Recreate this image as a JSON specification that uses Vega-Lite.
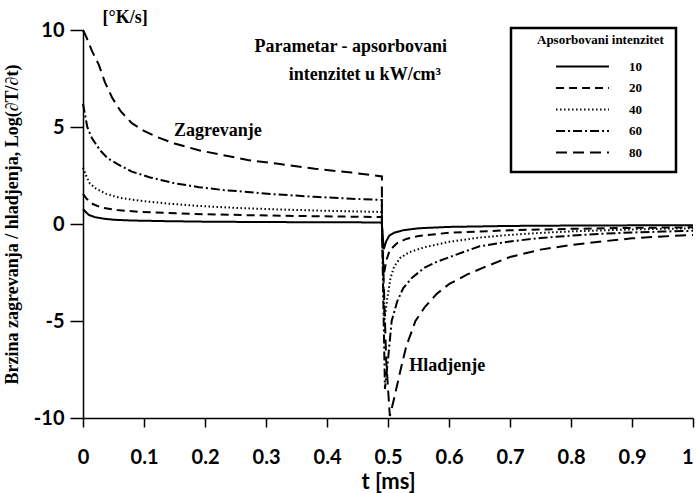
{
  "$schema": "https://vega.github.io/schema/vega-lite/v6.json",
  "width": 610,
  "height": 388,
  "autosize": {"type": "none"},
  "padding": {"left": 83, "top": 30, "right": 3, "bottom": 75},
  "background": "white",
  "config": {"view": {"stroke": null}, "font": "Liberation Serif"},
  "datasets": {
    "curves": [
      {"s":"80","i":0,"t":0,"v":10},{"s":"80","i":1,"t":0.006,"v":9.6},{"s":"80","i":2,"t":0.015,"v":8.9},{"s":"80","i":3,"t":0.026,"v":8.2},{"s":"80","i":4,"t":0.036,"v":7.3},{"s":"80","i":5,"t":0.048,"v":6.5},{"s":"80","i":6,"t":0.062,"v":5.8},{"s":"80","i":7,"t":0.08,"v":5.2},{"s":"80","i":8,"t":0.1,"v":4.8},{"s":"80","i":9,"t":0.12,"v":4.5},{"s":"80","i":10,"t":0.15,"v":4.15},{"s":"80","i":11,"t":0.19,"v":3.8},{"s":"80","i":12,"t":0.23,"v":3.55},{"s":"80","i":13,"t":0.27,"v":3.3},{"s":"80","i":14,"t":0.32,"v":3.1},{"s":"80","i":15,"t":0.38,"v":2.85},{"s":"80","i":16,"t":0.44,"v":2.65},{"s":"80","i":17,"t":0.49,"v":2.45},{"s":"80","i":18,"t":0.49,"v":0},{"s":"80","i":19,"t":0.497,"v":-7},{"s":"80","i":20,"t":0.503,"v":-9.9},{"s":"80","i":21,"t":0.51,"v":-9.0},{"s":"80","i":22,"t":0.52,"v":-7.6},{"s":"80","i":23,"t":0.53,"v":-6.3},{"s":"80","i":24,"t":0.545,"v":-5.0},{"s":"80","i":25,"t":0.56,"v":-4.3},{"s":"80","i":26,"t":0.58,"v":-3.6},{"s":"80","i":27,"t":0.6,"v":-3.1},{"s":"80","i":28,"t":0.63,"v":-2.6},{"s":"80","i":29,"t":0.66,"v":-2.2},{"s":"80","i":30,"t":0.7,"v":-1.7},{"s":"80","i":31,"t":0.75,"v":-1.32},{"s":"80","i":32,"t":0.8,"v":-1.08},{"s":"80","i":33,"t":0.85,"v":-0.9},{"s":"80","i":34,"t":0.9,"v":-0.74},{"s":"80","i":35,"t":0.95,"v":-0.64},{"s":"80","i":36,"t":1.0,"v":-0.57},
      {"s":"60","i":0,"t":0,"v":6.2},{"s":"60","i":1,"t":0.007,"v":5.0},{"s":"60","i":2,"t":0.015,"v":4.4},{"s":"60","i":3,"t":0.028,"v":3.8},{"s":"60","i":4,"t":0.04,"v":3.4},{"s":"60","i":5,"t":0.056,"v":3.1},{"s":"60","i":6,"t":0.08,"v":2.7},{"s":"60","i":7,"t":0.11,"v":2.4},{"s":"60","i":8,"t":0.15,"v":2.1},{"s":"60","i":9,"t":0.19,"v":1.9},{"s":"60","i":10,"t":0.23,"v":1.75},{"s":"60","i":11,"t":0.27,"v":1.65},{"s":"60","i":12,"t":0.32,"v":1.52},{"s":"60","i":13,"t":0.38,"v":1.4},{"s":"60","i":14,"t":0.44,"v":1.3},{"s":"60","i":15,"t":0.49,"v":1.24},{"s":"60","i":16,"t":0.49,"v":0},{"s":"60","i":17,"t":0.495,"v":-8.5},{"s":"60","i":18,"t":0.5,"v":-7.0},{"s":"60","i":19,"t":0.506,"v":-5.0},{"s":"60","i":20,"t":0.515,"v":-4.0},{"s":"60","i":21,"t":0.525,"v":-3.3},{"s":"60","i":22,"t":0.54,"v":-2.75},{"s":"60","i":23,"t":0.56,"v":-2.25},{"s":"60","i":24,"t":0.58,"v":-1.95},{"s":"60","i":25,"t":0.61,"v":-1.6},{"s":"60","i":26,"t":0.65,"v":-1.15},{"s":"60","i":27,"t":0.7,"v":-0.9},{"s":"60","i":28,"t":0.75,"v":-0.72},{"s":"60","i":29,"t":0.8,"v":-0.6},{"s":"60","i":30,"t":0.85,"v":-0.5},{"s":"60","i":31,"t":0.9,"v":-0.44},{"s":"60","i":32,"t":0.95,"v":-0.39},{"s":"60","i":33,"t":1.0,"v":-0.35},
      {"s":"40","i":0,"t":0,"v":2.9},{"s":"40","i":1,"t":0.005,"v":2.5},{"s":"40","i":2,"t":0.011,"v":2.1},{"s":"40","i":3,"t":0.02,"v":1.85},{"s":"40","i":4,"t":0.038,"v":1.55},{"s":"40","i":5,"t":0.06,"v":1.35},{"s":"40","i":6,"t":0.093,"v":1.2},{"s":"40","i":7,"t":0.14,"v":1.05},{"s":"40","i":8,"t":0.19,"v":0.93},{"s":"40","i":9,"t":0.25,"v":0.83},{"s":"40","i":10,"t":0.32,"v":0.75},{"s":"40","i":11,"t":0.4,"v":0.68},{"s":"40","i":12,"t":0.49,"v":0.62},{"s":"40","i":13,"t":0.49,"v":0},{"s":"40","i":14,"t":0.494,"v":-5.0},{"s":"40","i":15,"t":0.499,"v":-3.8},{"s":"40","i":16,"t":0.504,"v":-2.8},{"s":"40","i":17,"t":0.51,"v":-2.2},{"s":"40","i":18,"t":0.52,"v":-1.75},{"s":"40","i":19,"t":0.535,"v":-1.45},{"s":"40","i":20,"t":0.56,"v":-1.2},{"s":"40","i":21,"t":0.6,"v":-0.92},{"s":"40","i":22,"t":0.65,"v":-0.7},{"s":"40","i":23,"t":0.7,"v":-0.56},{"s":"40","i":24,"t":0.75,"v":-0.46},{"s":"40","i":25,"t":0.8,"v":-0.38},{"s":"40","i":26,"t":0.9,"v":-0.28},{"s":"40","i":27,"t":1.0,"v":-0.22},
      {"s":"20","i":0,"t":0,"v":1.55},{"s":"20","i":1,"t":0.006,"v":1.3},{"s":"20","i":2,"t":0.016,"v":1.03},{"s":"20","i":3,"t":0.03,"v":0.85},{"s":"20","i":4,"t":0.056,"v":0.72},{"s":"20","i":5,"t":0.09,"v":0.63},{"s":"20","i":6,"t":0.14,"v":0.57},{"s":"20","i":7,"t":0.2,"v":0.5},{"s":"20","i":8,"t":0.28,"v":0.45},{"s":"20","i":9,"t":0.38,"v":0.4},{"s":"20","i":10,"t":0.49,"v":0.36},{"s":"20","i":11,"t":0.49,"v":0},{"s":"20","i":12,"t":0.493,"v":-2.6},{"s":"20","i":13,"t":0.498,"v":-1.8},{"s":"20","i":14,"t":0.503,"v":-1.35},{"s":"20","i":15,"t":0.515,"v":-0.98},{"s":"20","i":16,"t":0.53,"v":-0.77},{"s":"20","i":17,"t":0.55,"v":-0.62},{"s":"20","i":18,"t":0.6,"v":-0.45},{"s":"20","i":19,"t":0.7,"v":-0.32},{"s":"20","i":20,"t":0.8,"v":-0.25},{"s":"20","i":21,"t":0.9,"v":-0.2},{"s":"20","i":22,"t":1.0,"v":-0.17},
      {"s":"10","i":0,"t":0,"v":0.77},{"s":"10","i":1,"t":0.005,"v":0.6},{"s":"10","i":2,"t":0.01,"v":0.46},{"s":"10","i":3,"t":0.02,"v":0.35},{"s":"10","i":4,"t":0.035,"v":0.27},{"s":"10","i":5,"t":0.05,"v":0.22},{"s":"10","i":6,"t":0.08,"v":0.18},{"s":"10","i":7,"t":0.13,"v":0.15},{"s":"10","i":8,"t":0.2,"v":0.12},{"s":"10","i":9,"t":0.3,"v":0.1},{"s":"10","i":10,"t":0.4,"v":0.09},{"s":"10","i":11,"t":0.49,"v":0.08},{"s":"10","i":12,"t":0.49,"v":0},{"s":"10","i":13,"t":0.493,"v":-1.3},{"s":"10","i":14,"t":0.497,"v":-0.9},{"s":"10","i":15,"t":0.502,"v":-0.6},{"s":"10","i":16,"t":0.51,"v":-0.45},{"s":"10","i":17,"t":0.525,"v":-0.32},{"s":"10","i":18,"t":0.55,"v":-0.22},{"s":"10","i":19,"t":0.6,"v":-0.15},{"s":"10","i":20,"t":0.7,"v":-0.1},{"s":"10","i":21,"t":0.8,"v":-0.08},{"s":"10","i":22,"t":1.0,"v":-0.06}
    ],
    "notes": [
      {"t": 0.069, "v": 10.6, "label": "[°K/s]"},
      {"t": 0.439, "v": 9.12, "label": "Parametar - apsorbovani"},
      {"t": 0.462, "v": 7.68, "label": "intenzitet u kW/cm³"},
      {"t": 0.221, "v": 4.8, "label": "Zagrevanje"},
      {"t": 0.597, "v": -7.3, "label": "Hladjenje"}
    ]
  },
  "layer": [
    {
      "data": {"name": "curves"},
      "mark": {"type": "line", "color": "black", "strokeWidth": 2, "clip": false},
      "encoding": {
        "x": {
          "field": "t", "type": "quantitative",
          "scale": {"domain": [0, 1], "nice": false, "zero": false},
          "axis": {
            "values": [0,0.05,0.1,0.15,0.2,0.25,0.3,0.35,0.4,0.45,0.5,0.55,0.6,0.65,0.7,0.75,0.8,0.85,0.9,0.95,1],
            "labelExpr": "round(datum.value*20)%2==0 ? format(datum.value, '.1~f') : ''",
            "labelAlign": {"condition": {"test": "datum.value == 1", "value": "right"}, "value": "center"},
            "grid": false, "tickSize": 9, "tickWidth": 1.5, "tickColor": "black",
            "domainColor": "black", "domainWidth": 1.5,
            "labelFont": "Lato", "labelFontWeight": "bold", "labelFontSize": 20, "labelColor": "black",
            "labelPadding": 20, "labelOverlap": false, "labelFlush": false,
            "title": "t [ms]", "titleFont": "Lato", "titleFontWeight": "bold", "titleFontSize": 22, "titleColor": "black", "titlePadding": 4
          }
        },
        "y": {
          "field": "v", "type": "quantitative",
          "scale": {"domain": [-10, 10], "nice": false},
          "axis": {
            "values": [-10, -5, 0, 5, 10],
            "labelExpr": "datum.value < 0 ? '-' + abs(datum.value) : '' + datum.value",
            "grid": false, "tickSize": 13, "tickWidth": 1.5, "tickColor": "black",
            "domainColor": "black", "domainWidth": 1.5,
            "labelFont": "Lato", "labelFontWeight": "bold", "labelFontSize": 20, "labelColor": "black",
            "labelPadding": 6,
            "title": "Brzina zagrevanja / hladjenja, Log(∂T/∂t)", "titleFont": "Liberation Serif", "titleFontWeight": "bold", "titleFontSize": 18, "titleColor": "black", "titlePadding": 12
          }
        },
        "strokeDash": {
          "field": "s", "type": "nominal",
          "scale": {"domain": ["10", "20", "40", "60", "80"], "range": [[1, 0], [8, 5], [1.5, 2.5], [9, 3, 2, 3], [11, 6]]},
          "legend": {
            "title": "Apsorbovani intenzitet", "orient": "none", "legendX": 428, "legendY": -2,
            "strokeColor": "black", "fillColor": "white", "padding": 12,
            "symbolType": "M-5,0H5", "symbolSize": 112, "symbolStrokeWidth": 2, "symbolStrokeColor": "black",
            "symbolOffset": 53, "labelOffset": 40,
            "labelFont": "Liberation Serif", "labelFontWeight": "bold", "labelFontSize": 13, "labelColor": "black",
            "titleFont": "Liberation Serif", "titleFontWeight": "bold", "titleFontSize": 13, "titleColor": "black",
            "titleAnchor": "start", "titlePadding": 7, "rowPadding": 7.5,
            "encode": {"title": {"update": {"dx": {"value": 14}, "dy": {"value": -6}}}, "legend": {"update": {"strokeWidth": {"value": 2.5}}}}
          }
        },
        "order": {"field": "i", "type": "quantitative"}
      }
    },
    {
      "mark": {"type": "rule", "color": "black", "strokeWidth": 2.5},
      "encoding": {"y": {"datum": 0, "type": "quantitative"}}
    },
    {
      "data": {"name": "notes"},
      "mark": {"type": "text", "font": "Liberation Serif", "fontWeight": "bold", "fontSize": 18, "color": "black", "align": "center", "baseline": "middle"},
      "encoding": {
        "x": {"field": "t", "type": "quantitative"},
        "y": {"field": "v", "type": "quantitative"},
        "text": {"field": "label", "type": "nominal"}
      }
    }
  ]
}
